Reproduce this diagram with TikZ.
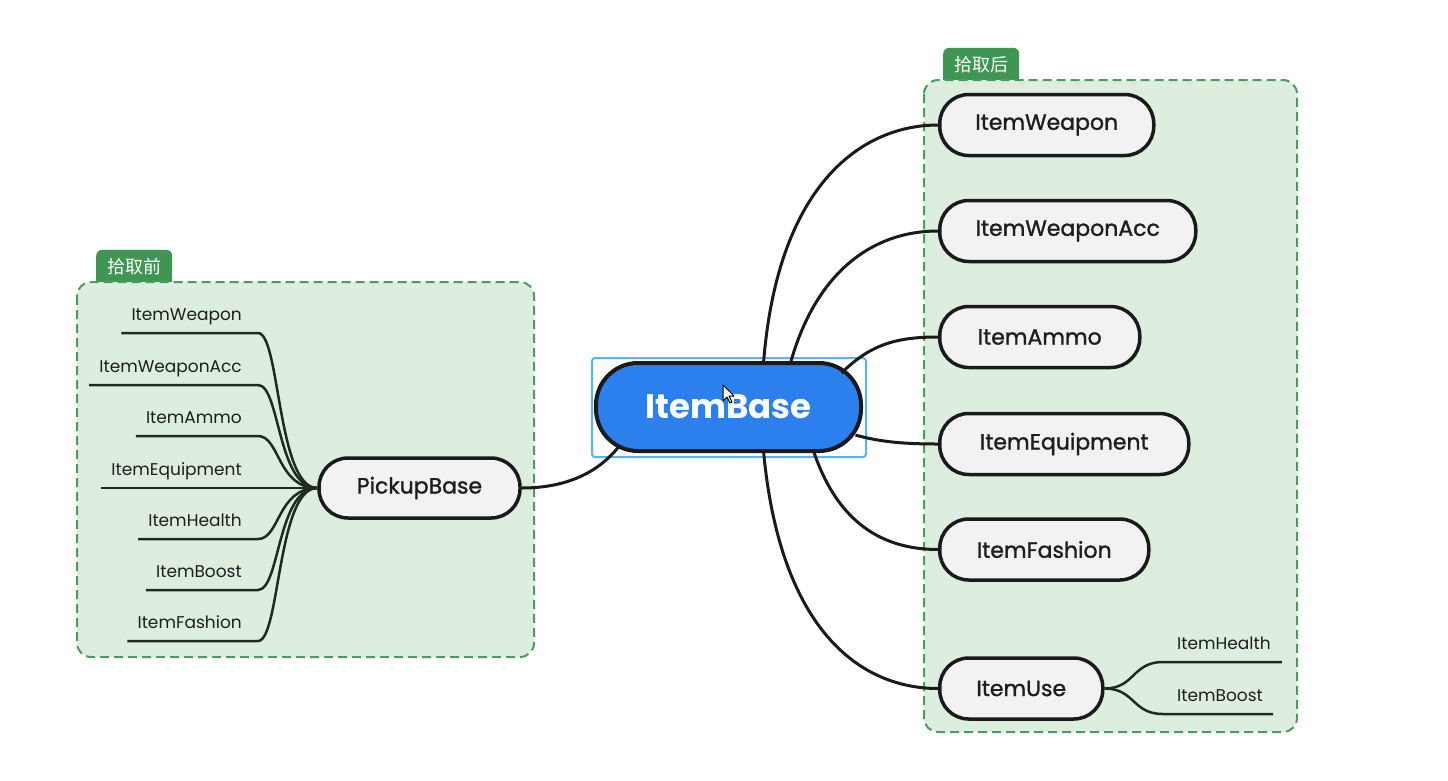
\documentclass[tikz,border=0pt]{standalone}
\usepackage{fontspec}
\setmainfont{Poppins}
\newfontfamily\medfont[FakeBold=1.3]{Poppins}
\newfontfamily\cjk{Noto Sans CJK SC}
\definecolor{basefill}{HTML}{2B80EE}
\definecolor{selblue}{HTML}{52B6F2}
\definecolor{grpfill}{HTML}{DDEEDF}
\definecolor{grpline}{HTML}{4E9A62}
\definecolor{tabgreen}{HTML}{3F9653}
\definecolor{pillgray}{HTML}{F2F2F2}
\definecolor{linedark}{HTML}{1A1A1A}
\definecolor{leafdark}{HTML}{1F2B20}
\definecolor{textdark}{HTML}{1E1E1E}
\begin{document}
\begin{tikzpicture}[x=1pt,y=-1pt,
  grpbox/.style={fill=grpfill, draw=grpline, line width=2pt, dash pattern=on 9pt off 5pt, rounded corners=14pt},
  tab/.style={fill=tabgreen, rounded corners=6pt, minimum width=76pt, minimum height=33pt, inner sep=0pt, text=white, font=\cjk\fontsize{18}{21}\selectfont},
  pill/.style={draw=linedark, line width=3.5pt, fill=pillgray, rounded corners=29pt, minimum height=61pt, inner sep=0pt, text=textdark, font=\medfont\fontsize{22}{26}\selectfont},
  basenode/.style={draw=linedark, line width=4pt, fill=basefill, rounded corners=42pt, minimum width=265pt, minimum height=88pt, inner sep=0pt, text=white, font=\bfseries\fontsize{34}{40}\selectfont},
  leaf/.style={inner sep=0pt, text=textdark, font=\fontsize{17}{20}\selectfont},
  leafline/.style={draw=leafdark, line width=2.5pt},
  conn/.style={draw=linedark, line width=3pt}
]
\useasboundingbox (0,0) rectangle (1448,780);
\fill[white] (0,0) rectangle (1448,780);

% groups
\fill[tabgreen] (96,266) rectangle (172,283);
\node[tab, anchor=south west] (tabL) at (96,283) {拾取前};
\draw[grpbox] (77,282) rectangle (534,657);
\fill[tabgreen] (943,63) rectangle (1019,81);
\node[tab, anchor=south west] (tabR) at (943,81) {拾取后};
\draw[grpbox] (924,80) rectangle (1297,732);

% central node
\draw[selblue, line width=2pt, rounded corners=3pt] (592,358) rectangle (866,457);
\node[basenode] (base) at (728.5,407) {ItemBase};

% right nodes
\node[pill, minimum width=214pt, anchor=west] (iw) at (938,125) {ItemWeapon};
\node[pill, minimum width=256pt, anchor=west] (iwa) at (938,231) {ItemWeaponAcc};
\node[pill, minimum width=200pt, anchor=west] (ia) at (938,337) {ItemAmmo};
\node[pill, minimum width=249pt, anchor=west] (ie) at (938,444) {ItemEquipment};
\node[pill, minimum width=209pt, anchor=west] (ifa) at (938,549.5) {ItemFashion};
\node[pill, minimum width=163pt, anchor=west] (iu) at (938,688.5) {ItemUse};

% pickup node
\node[pill, minimum width=201pt, minimum height=60pt] (pb) at (419.5,488) {PickupBase};

% main connectors
\draw[conn] ([shift={(35,-44)}]base.center) .. controls (778,180) and (865,125) .. (iw.west);
\draw[conn] ([shift={(62,-44)}]base.center) .. controls (815,275) and (870,231) .. (iwa.west);
\draw[conn] ([shift={(113,-34)}]base.center) .. controls (870,345) and (895,337) .. (ia.west);
\draw[conn] ([shift={(127,28)}]base.center) .. controls (880,442) and (905,444) .. (ie.west);
\draw[conn] ([shift={(85,44)}]base.center) .. controls (835,515) and (875,549.5) .. (ifa.west);
\draw[conn] ([shift={(35,44)}]base.center) .. controls (780,630) and (860,688.5) .. (iu.west);
\draw[conn] (pb.east) .. controls (570,488) and (600,470) .. ([shift={(-110,40)}]base.center);

% left leaves
\node[leaf, anchor=base east] (l1) at (242,320) {ItemWeapon};
\node[leaf, anchor=base east] (l2) at (242,372) {ItemWeaponAcc};
\node[leaf, anchor=base east] (l3) at (242,423) {ItemAmmo};
\node[leaf, anchor=base east] (l4) at (242,475) {ItemEquipment};
\node[leaf, anchor=base east] (l5) at (242,526) {ItemHealth};
\node[leaf, anchor=base east] (l6) at (242,577) {ItemBoost};
\node[leaf, anchor=base east] (l7) at (242,628) {ItemFashion};
\foreach \n in {l1,l2,l3,l5,l6,l7}{
  \draw[leafline] ([xshift=-10pt,yshift=-13pt]\n.base west) -- ([xshift=16pt,yshift=-13pt]\n.base east)
    .. controls +(22,0) and +(-40,0) .. (pb.west);
}
\draw[leafline] ([xshift=-10pt,yshift=-13pt]l4.base west) -- (pb.west);

% ItemUse leaves
\node[leaf, anchor=base west] (r1) at (1177,649) {ItemHealth};
\node[leaf, anchor=base west] (r2) at (1177,701) {ItemBoost};
\draw[leafline] (iu.east) .. controls (1135,688.5) and (1132,662) .. ([xshift=-14pt,yshift=-13pt]r1.base west) -- ([xshift=11pt,yshift=-13pt]r1.base east);
\draw[leafline] (iu.east) .. controls (1135,688.5) and (1132,714) .. ([xshift=-14pt,yshift=-13pt]r2.base west) -- ([xshift=10pt,yshift=-13pt]r2.base east);

% mouse cursor
\draw[fill=white, draw=black, line width=1pt, line join=round] (723,385) -- (723,401) -- (727,397) -- (730,403) -- (732,402) -- (729,396) -- (734,396) -- cycle;
\end{tikzpicture}
\end{document}
